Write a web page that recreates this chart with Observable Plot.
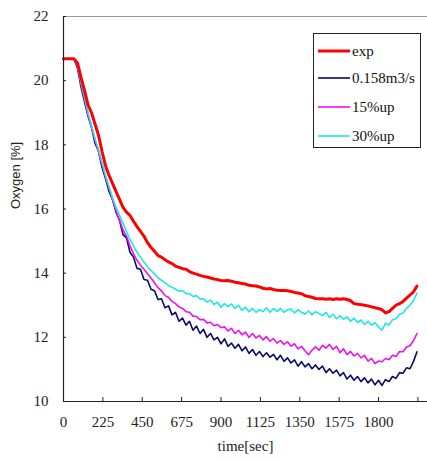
<!DOCTYPE html>
<html><head><meta charset="utf-8">
<script src="https://cdn.jsdelivr.net/npm/d3@7"></script>
<script src="https://cdn.jsdelivr.net/npm/@observablehq/plot@0.6"></script>
<style>
body{margin:0;background:#fff}
#wrap{position:relative;width:427px;height:462px}
#legend{position:absolute;left:313px;top:33px;width:106px;height:113px;border:1px solid #222;background:#fff;font-family:"Liberation Serif","Times New Roman",serif;font-size:15px;color:#111}
.row{position:absolute;left:4px;height:20px;display:flex;align-items:center}
.sw{width:32px;margin-right:2px}
</style>
</head><body><div id="wrap"><div id="legend"></div></div>
<script>
// sampling times (s)
const time = d3.range(0, 2021, 20);

const seriesNames = ["exp", "0.158m3/s", "15%up", "30%up"];
const seriesColors = ["#ff0000", "#0a0a66", "#ee10ee", "#22e6e6"];
const seriesWidths = [3, 1.6, 1.6, 1.6];

const exp = [20.68,20.68,20.68,20.68,20.55,20.1,19.7,19.25,19.0,18.65,18.3,17.8,17.35,17.05,16.8,16.55,16.3,16.05,15.9,15.8,
15.62,15.45,15.3,15.15,14.95,14.8,14.68,14.55,14.5,14.42,14.35,14.3,14.22,14.18,14.14,14.12,14.05,14.0,13.97,13.93,
13.9,13.88,13.85,13.82,13.8,13.77,13.76,13.77,13.75,13.72,13.7,13.68,13.66,13.62,13.61,13.6,13.57,13.53,13.51,13.52,
13.49,13.47,13.46,13.46,13.45,13.43,13.4,13.38,13.36,13.3,13.27,13.25,13.21,13.2,13.2,13.19,13.2,13.18,13.2,13.19,
13.2,13.18,13.14,13.05,13.03,13.02,13.0,12.98,12.95,12.92,12.9,12.86,12.76,12.8,12.9,13.0,13.05,13.12,13.22,13.32,
13.42,13.6];

const base = [20.68,20.68,20.68,20.68,20.4,19.8,19.35,18.9,18.55,18.05,17.8,17.3,16.95,16.55,16.3,15.9,15.65,15.2,15.1,14.65,
14.5,14.15,14.12,13.8,13.78,13.5,13.45,13.18,13.2,12.92,12.98,12.7,12.78,12.5,12.6,12.38,12.5,12.22,12.35,12.12,
12.25,12.0,12.12,11.92,12.0,11.8,11.95,11.72,11.82,11.66,11.78,11.58,11.7,11.5,11.62,11.44,11.56,11.4,11.52,11.38,
11.47,11.3,11.44,11.25,11.36,11.2,11.3,11.1,11.24,11.08,11.18,11.02,11.14,11.0,11.1,10.9,11.02,10.88,10.98,10.8,
10.9,10.7,10.82,10.66,10.78,10.62,10.74,10.58,10.7,10.52,10.66,10.5,10.68,10.62,10.78,10.72,10.9,10.88,11.05,11.02,
11.25,11.55];

const up15 = [20.68,20.68,20.68,20.68,20.45,19.9,19.45,18.95,18.55,18.15,17.8,17.4,17.0,16.65,16.3,15.95,15.65,15.35,15.15,14.85,
14.6,14.4,14.25,14.12,13.98,13.85,13.7,13.55,13.45,13.3,13.25,13.12,13.05,12.95,12.9,12.8,12.78,12.66,12.65,12.55,
12.56,12.45,12.47,12.36,12.4,12.3,12.33,12.2,12.28,12.12,12.22,12.08,12.16,12.0,12.12,11.98,12.06,11.92,12.02,11.88,
11.96,11.82,11.9,11.78,11.86,11.72,11.8,11.64,11.72,11.58,11.46,11.6,11.7,11.6,11.75,11.66,11.78,11.62,11.72,11.52,
11.64,11.46,11.56,11.42,11.5,11.36,11.44,11.26,11.34,11.18,11.26,11.24,11.34,11.3,11.44,11.4,11.56,11.55,11.7,11.74,
11.9,12.12];

const up30 = [20.68,20.68,20.68,20.68,20.5,19.95,19.5,19.0,18.6,18.2,17.85,17.45,17.05,16.7,16.35,16.05,15.8,15.55,15.3,15.05,
14.85,14.65,14.5,14.35,14.2,14.08,13.98,13.85,13.78,13.7,13.62,13.56,13.5,13.44,13.46,13.36,13.36,13.27,13.3,13.2,
13.2,13.1,13.16,13.02,13.1,12.94,13.05,12.96,13.04,12.9,13.0,12.84,12.94,12.8,12.9,12.78,12.86,12.8,12.92,12.78,
12.9,12.8,12.9,12.78,12.86,12.88,12.76,12.86,12.78,12.72,12.82,12.7,12.8,12.74,12.68,12.78,12.62,12.72,12.58,12.68,
12.56,12.64,12.5,12.6,12.46,12.54,12.4,12.5,12.38,12.46,12.32,12.22,12.44,12.38,12.55,12.58,12.72,12.76,12.9,13.0,
13.15,13.38];

const xTicks = [0,225,450,675,900,1125,1350,1575,1800,2025];
const xTickLabels = [0,225,450,675,900,1125,1350,1575,1800];
const yTicks = [10,12,14,16,18,20,22];

const seriesValues = [exp, base, up15, up30];
const rows = seriesNames.flatMap((name, k) =>
  time.map((t, i) => ({t, v: seriesValues[k][i], name})));

const drawOrder = [1, 2, 3, 0];
const serif = '"Liberation Serif", "Times New Roman", serif';

const chart = Plot.plot({
  width: 427, height: 462,
  marginLeft: 63, marginRight: 0, marginTop: 16, marginBottom: 61,
  x: {domain: [0, 2080]},
  y: {domain: [10, 22]},
  style: {fontFamily: serif, fontSize: "15px", color: "#222", background: "white"},
  marks: [
    Plot.ruleY([22], {stroke: "#999", strokeWidth: 1}),
    ...drawOrder.map(k => Plot.line(rows.filter(d => d.name === seriesNames[k]),
      {x: "t", y: "v", stroke: seriesColors[k], strokeWidth: seriesWidths[k], curve: "linear"})),
    Plot.ruleX(xTicks, {x: d => d, insetTop: 381, stroke: "#222"}),
    Plot.ruleY(yTicks, {y: d => d, insetRight: 361, stroke: "#222"}),
    Plot.ruleX([0], {stroke: "#222", strokeWidth: 1.2}),
    Plot.ruleY([10], {stroke: "#222", strokeWidth: 1.2}),
    Plot.axisX(xTickLabels, {tickSize: 0, tickPadding: 15, label: null, fontSize: 15, fontFamily: serif, tickFormat: d => String(d)}),
    Plot.axisY(yTicks, {tickSize: 0, tickPadding: 15, label: null, fontSize: 15, fontFamily: serif, tickFormat: d => String(d)}),
    Plot.text(["Oxygen [%]"], {frameAnchor: "left", dx: -48, rotate: -90, fontFamily: '"Liberation Sans", Arial, sans-serif', fontSize: 13, fill: "#222"}),
    Plot.text(["time[sec]"], {frameAnchor: "bottom", dy: 49, fontSize: 15, fontFamily: serif, fill: "#222"})
  ]
});
document.getElementById("wrap").prepend(chart);

const legend = document.getElementById("legend");
const rowTops = [7, 34, 63, 92];
seriesNames.forEach((name, k) => {
  const r = document.createElement("div");
  r.className = "row";
  r.style.top = rowTops[k] + "px";
  r.innerHTML = `<svg class="sw" width="32" height="6"><line x1="0" x2="32" y1="3" y2="3" stroke="${seriesColors[k]}" stroke-width="${seriesWidths[k]}"/></svg><span>${name}</span>`;
  legend.appendChild(r);
});
</script>
</body></html>
